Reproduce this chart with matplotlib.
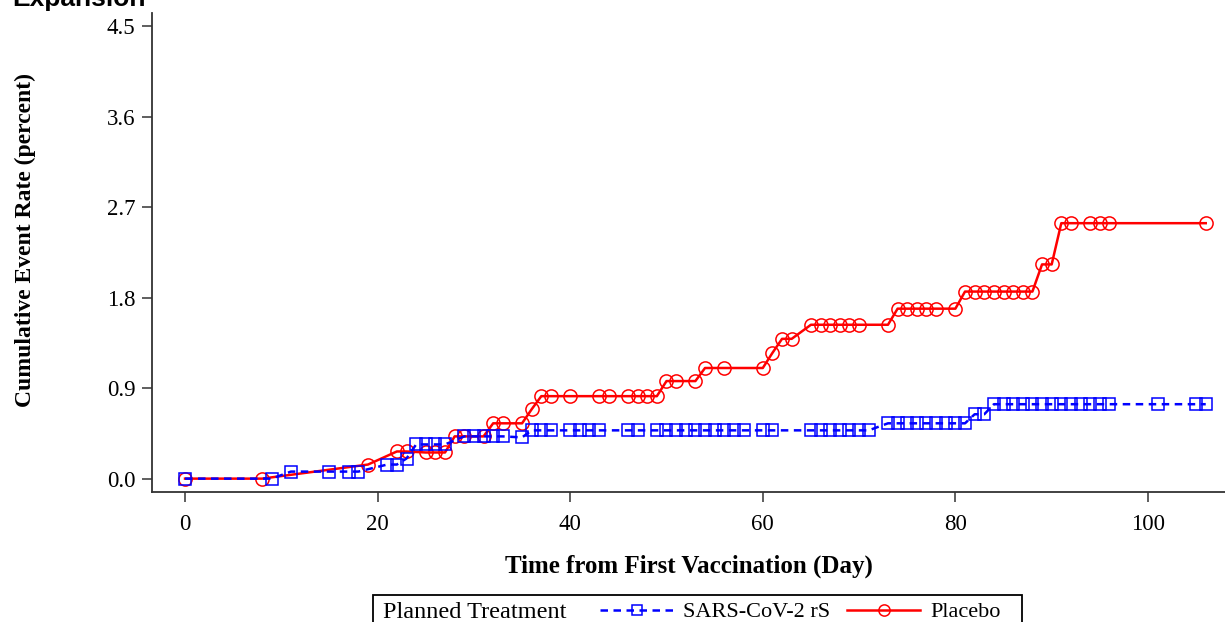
import matplotlib
matplotlib.use('Agg')
import matplotlib.pyplot as plt
from matplotlib.patches import Rectangle

# placebo arm (red circles)
plaDays = [0, 8, 19, 22, 23, 25, 26, 27, 28, 29, 31, 32, 33, 35, 36, 37, 38,
           40, 43, 44, 46, 47, 48, 49, 50, 51, 53, 54, 56, 60, 61, 62, 63,
           65, 66, 67, 68, 69, 70, 73, 74, 75, 76, 77, 78, 80,
           81, 82, 83, 84, 85, 86, 87, 88, 89, 90, 91, 92, 94, 95, 96, 106]
plaRate = [0, 0, 0.14, 0.27, 0.27, 0.26, 0.26, 0.26, 0.42, 0.42, 0.42, 0.55, 0.55, 0.55, 0.69, 0.82, 0.82,
           0.82, 0.82, 0.82, 0.82, 0.82, 0.82, 0.82, 0.97, 0.97, 0.97, 1.10, 1.10, 1.10, 1.25, 1.39, 1.39,
           1.53, 1.53, 1.53, 1.53, 1.53, 1.53, 1.53, 1.69, 1.69, 1.69, 1.69, 1.69, 1.69,
           1.86, 1.86, 1.86, 1.86, 1.86, 1.86, 1.86, 1.86, 2.13, 2.13, 2.54, 2.54, 2.54, 2.54, 2.54, 2.54]

# vaccine arm (blue squares)
vacDays = [0, 9, 11, 15, 17, 18, 21, 22, 23, 24, 25, 26, 27, 29, 30, 31, 32, 33, 35,
           36, 37, 38, 40, 41, 42, 43, 46, 47, 49, 50, 51, 52, 53, 54, 55, 56, 57, 58,
           60, 61, 65, 66, 67, 68, 69, 70, 71,
           73, 74, 75, 76, 77, 78, 79, 80, 81, 82, 83,
           84, 85, 86, 87, 88, 89, 90, 91, 92, 93, 94, 95, 96, 101, 105, 106]
vacRate = [0, 0, 0.07, 0.07, 0.07, 0.07, 0.14, 0.14, 0.20, 0.34, 0.34, 0.34, 0.34, 0.42, 0.42, 0.42, 0.42, 0.42, 0.41,
           0.48, 0.48, 0.48, 0.48, 0.48, 0.48, 0.48, 0.48, 0.48, 0.48, 0.48, 0.48, 0.48, 0.48, 0.48, 0.48, 0.48, 0.48, 0.48,
           0.48, 0.48, 0.48, 0.48, 0.48, 0.48, 0.48, 0.48, 0.48,
           0.55, 0.55, 0.55, 0.55, 0.55, 0.55, 0.55, 0.55, 0.55, 0.64, 0.64,
           0.74, 0.74, 0.74, 0.74, 0.74, 0.74, 0.74, 0.74, 0.74, 0.74, 0.74, 0.74, 0.74, 0.74, 0.74, 0.74]

xTicks = [0, 20, 40, 60, 80, 100]
yTicks = [0.0, 0.9, 1.8, 2.7, 3.6, 4.5]

serif = 'Liberation Serif'

fig = plt.figure(figsize=(12.25, 6.22), dpi=100)
ax = fig.add_axes([152/1225, 130/622, 1 - 152/1225, (492-13)/622])

pl, = ax.plot(plaDays, plaRate, color='#ff0000', lw=1.8, marker='o', ms=9.5,
              mfc='none', mec='#ff0000', mew=1.1, zorder=3)
vc, = ax.plot(vacDays, vacRate, color='#0000ff', lw=1.8, ls=(0, (3.0, 2.2)),
              marker='s', ms=9, mfc='none', mec='#0000ff', mew=1.1, zorder=4)

ax.set_xlim(-3.43, 108.0)
ax.set_ylim(-0.133, 4.63)
ax.set_xticks(xTicks)
ax.set_yticks(yTicks)
ax.set_yticklabels(['%.1f' % v for v in yTicks])
for s in ['top', 'right']:
    ax.spines[s].set_visible(False)
for s in ['left', 'bottom']:
    ax.spines[s].set_color('#333333')
    ax.spines[s].set_linewidth(1.3)
ax.tick_params(axis='both', direction='out', length=7, width=1.1, color='#333333',
               labelsize=16.5)
ax.tick_params(axis='x', pad=9)
ax.tick_params(axis='y', pad=5)
for lab in ax.get_xticklabels() + ax.get_yticklabels():
    lab.set_family(serif)

ax.set_xlabel('Time from First Vaccination (Day)', family=serif, fontsize=18,
              fontweight='bold', labelpad=14)
ax.set_ylabel('Cumulative Event Rate (percent)', family=serif, fontsize=17,
              fontweight='bold')
ax.yaxis.set_label_coords(-0.108, 0.526)

fig.text(12/1225, 1 - 6/622, 'Expansion', family='Liberation Sans',
         fontweight='bold', fontsize=19, va='baseline', ha='left')

# legend box at the bottom (partly cut off like the original)
fig.patches.append(Rectangle((373/1225, -0.02), (1022-373)/1225, 0.02 + 27/622,
                             transform=fig.transFigure, fill=False,
                             edgecolor='black', lw=1.3))
fig.text(383/1225, 4/622, 'Planned Treatment', family=serif, fontsize=17.5,
         va='baseline', ha='left')
fig.legend((vc, pl), ('SARS-CoV-2 rS', 'Placebo'), ncol=2, frameon=False,
           loc='center left', bbox_to_anchor=(600/1225, 10/622),
           prop={'family': serif, 'size': 16}, handlelength=3.3,
           handletextpad=0.45, columnspacing=0.75, borderpad=0, borderaxespad=0,
           markerscale=0.85)

fig.savefig('out.png', dpi=100)
